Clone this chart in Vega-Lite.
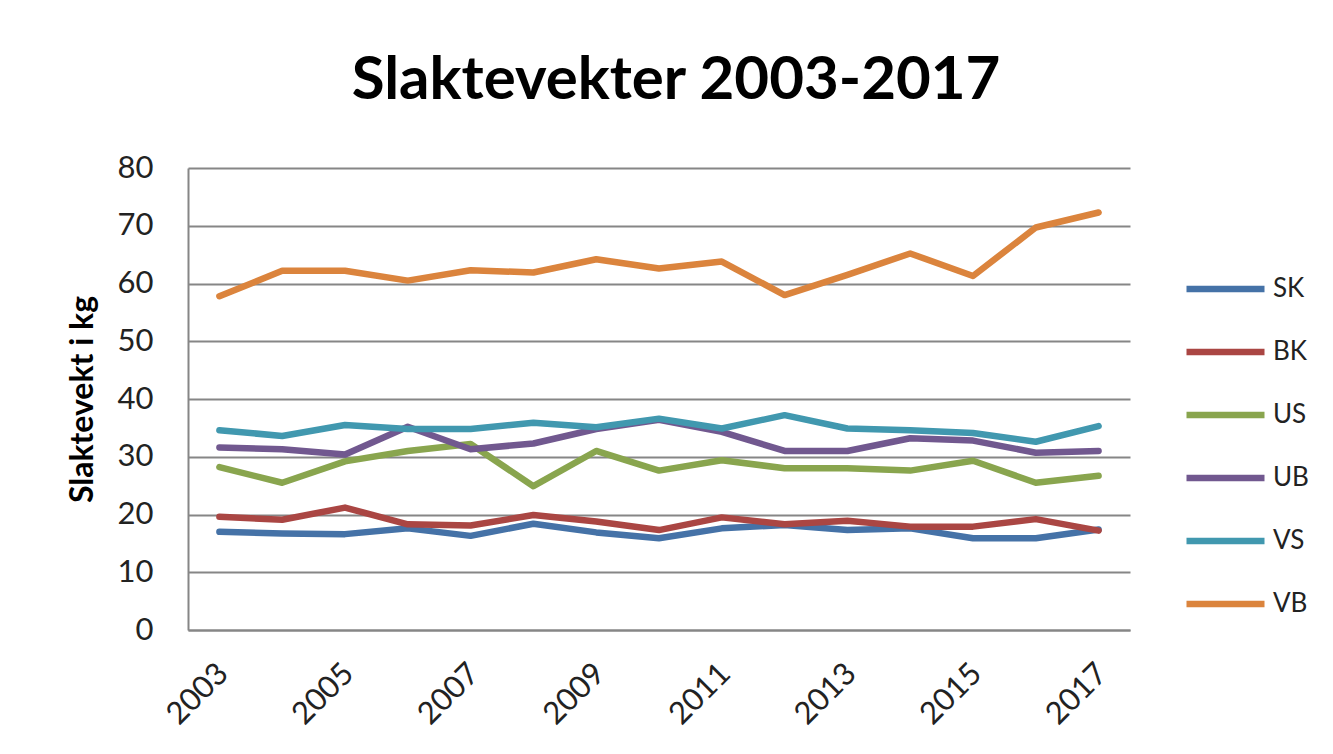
{
  "$schema": "https://vega.github.io/schema/vega-lite/v6.json",
  "autosize": {"type": "none"},
  "padding": {"left": 188, "top": 168, "right": 203, "bottom": 124},
  "width": 942,
  "height": 462,
  "background": "white",
  "title": {
    "text": "Slaktevekter 2003-2017",
    "font": "Lato",
    "fontSize": 60,
    "fontWeight": "bold",
    "color": "#000000",
    "anchor": "middle",
    "frame": "group",
    "baseline": "alphabetic",
    "offset": 50,
    "dy": 57,
    "dx": 17
  },
  "config": {
    "view": {"stroke": null},
    "font": "Lato"
  },
  "data": {
    "values": [
      {"year": 2003, "series": "SK", "value": 17.0},
      {"year": 2004, "series": "SK", "value": 16.7},
      {"year": 2005, "series": "SK", "value": 16.6},
      {"year": 2006, "series": "SK", "value": 17.6},
      {"year": 2007, "series": "SK", "value": 16.3},
      {"year": 2008, "series": "SK", "value": 18.4},
      {"year": 2009, "series": "SK", "value": 16.9},
      {"year": 2010, "series": "SK", "value": 15.9},
      {"year": 2011, "series": "SK", "value": 17.6},
      {"year": 2012, "series": "SK", "value": 18.2},
      {"year": 2013, "series": "SK", "value": 17.3},
      {"year": 2014, "series": "SK", "value": 17.6},
      {"year": 2015, "series": "SK", "value": 15.9},
      {"year": 2016, "series": "SK", "value": 15.9},
      {"year": 2017, "series": "SK", "value": 17.4},
      {"year": 2003, "series": "BK", "value": 19.6},
      {"year": 2004, "series": "BK", "value": 19.1},
      {"year": 2005, "series": "BK", "value": 21.2},
      {"year": 2006, "series": "BK", "value": 18.3},
      {"year": 2007, "series": "BK", "value": 18.1},
      {"year": 2008, "series": "BK", "value": 19.9},
      {"year": 2009, "series": "BK", "value": 18.8},
      {"year": 2010, "series": "BK", "value": 17.3},
      {"year": 2011, "series": "BK", "value": 19.5},
      {"year": 2012, "series": "BK", "value": 18.3},
      {"year": 2013, "series": "BK", "value": 18.9},
      {"year": 2014, "series": "BK", "value": 17.9},
      {"year": 2015, "series": "BK", "value": 17.9},
      {"year": 2016, "series": "BK", "value": 19.2},
      {"year": 2017, "series": "BK", "value": 17.2},
      {"year": 2003, "series": "US", "value": 28.2},
      {"year": 2004, "series": "US", "value": 25.5},
      {"year": 2005, "series": "US", "value": 29.2},
      {"year": 2006, "series": "US", "value": 31.0},
      {"year": 2007, "series": "US", "value": 32.2},
      {"year": 2008, "series": "US", "value": 24.9},
      {"year": 2009, "series": "US", "value": 31.0},
      {"year": 2010, "series": "US", "value": 27.6},
      {"year": 2011, "series": "US", "value": 29.4},
      {"year": 2012, "series": "US", "value": 28.0},
      {"year": 2013, "series": "US", "value": 28.0},
      {"year": 2014, "series": "US", "value": 27.6},
      {"year": 2015, "series": "US", "value": 29.3},
      {"year": 2016, "series": "US", "value": 25.5},
      {"year": 2017, "series": "US", "value": 26.7},
      {"year": 2003, "series": "UB", "value": 31.6},
      {"year": 2004, "series": "UB", "value": 31.3},
      {"year": 2005, "series": "UB", "value": 30.4},
      {"year": 2006, "series": "UB", "value": 35.2},
      {"year": 2007, "series": "UB", "value": 31.3},
      {"year": 2008, "series": "UB", "value": 32.3},
      {"year": 2009, "series": "UB", "value": 34.8},
      {"year": 2010, "series": "UB", "value": 36.4},
      {"year": 2011, "series": "UB", "value": 34.3},
      {"year": 2012, "series": "UB", "value": 31.0},
      {"year": 2013, "series": "UB", "value": 31.0},
      {"year": 2014, "series": "UB", "value": 33.2},
      {"year": 2015, "series": "UB", "value": 32.8},
      {"year": 2016, "series": "UB", "value": 30.7},
      {"year": 2017, "series": "UB", "value": 31.0},
      {"year": 2003, "series": "VS", "value": 34.6},
      {"year": 2004, "series": "VS", "value": 33.6},
      {"year": 2005, "series": "VS", "value": 35.5},
      {"year": 2006, "series": "VS", "value": 34.8},
      {"year": 2007, "series": "VS", "value": 34.8},
      {"year": 2008, "series": "VS", "value": 35.9},
      {"year": 2009, "series": "VS", "value": 35.1},
      {"year": 2010, "series": "VS", "value": 36.6},
      {"year": 2011, "series": "VS", "value": 34.9},
      {"year": 2012, "series": "VS", "value": 37.2},
      {"year": 2013, "series": "VS", "value": 34.9},
      {"year": 2014, "series": "VS", "value": 34.6},
      {"year": 2015, "series": "VS", "value": 34.1},
      {"year": 2016, "series": "VS", "value": 32.6},
      {"year": 2017, "series": "VS", "value": 35.3},
      {"year": 2003, "series": "VB", "value": 57.8},
      {"year": 2004, "series": "VB", "value": 62.2},
      {"year": 2005, "series": "VB", "value": 62.2},
      {"year": 2006, "series": "VB", "value": 60.5},
      {"year": 2007, "series": "VB", "value": 62.3},
      {"year": 2008, "series": "VB", "value": 61.9},
      {"year": 2009, "series": "VB", "value": 64.2},
      {"year": 2010, "series": "VB", "value": 62.6},
      {"year": 2011, "series": "VB", "value": 63.8},
      {"year": 2012, "series": "VB", "value": 58.0},
      {"year": 2013, "series": "VB", "value": 61.5},
      {"year": 2014, "series": "VB", "value": 65.2},
      {"year": 2015, "series": "VB", "value": 61.3},
      {"year": 2016, "series": "VB", "value": 69.7},
      {"year": 2017, "series": "VB", "value": 72.3}
    ]
  },
  "mark": {"type": "line", "strokeWidth": 6.5, "strokeJoin": "round", "strokeCap": "round"},
  "encoding": {
    "x": {
      "field": "year",
      "type": "ordinal",
      "scale": {"type": "point", "padding": 0.5},
      "axis": {
        "title": null,
        "values": [2003, 2005, 2007, 2009, 2011, 2013, 2015, 2017],
        "labelAngle": -45,
        "labelFont": "Lato",
        "labelFontSize": 31,
        "labelColor": "#222222",
        "labelPadding": 28,
        "labelOffset": -7,
        "ticks": false,
        "domainColor": "#868686",
        "domainWidth": 2,
        "grid": false
      }
    },
    "y": {
      "field": "value",
      "type": "quantitative",
      "scale": {"domain": [0, 80], "nice": false, "zero": true},
      "axis": {
        "title": "Slaktevekt i kg",
        "titleFont": "Lato",
        "titleFontSize": 32,
        "titleFontWeight": "bold",
        "titleColor": "#000000",
        "titlePadding": 18,
        "values": [0, 10, 20, 30, 40, 50, 60, 70, 80],
        "labelFont": "Lato",
        "labelFontSize": 31,
        "labelColor": "#222222",
        "labelPadding": 35,
        "ticks": false,
        "domainColor": "#868686",
        "domainWidth": 2,
        "grid": true,
        "gridColor": "#868686",
        "gridWidth": 2
      }
    },
    "color": {
      "field": "series",
      "type": "nominal",
      "scale": {
        "domain": ["SK", "BK", "US", "UB", "VS", "VB"],
        "range": ["#4572A7", "#AA4643", "#89A54E", "#71588F", "#4198AF", "#DB843D"]
      },
      "legend": {
        "title": null,
        "orient": "none",
        "legendX": 995,
        "legendY": 108,
        "symbolType": "stroke",
        "symbolSize": 6084,
        "symbolStrokeWidth": 6.5,
        "clipHeight": 26,
        "rowPadding": 37,
        "labelOffset": 5,
        "labelFont": "Lato",
        "labelFontSize": 26,
        "labelColor": "#222222"
      }
    }
  }
}
